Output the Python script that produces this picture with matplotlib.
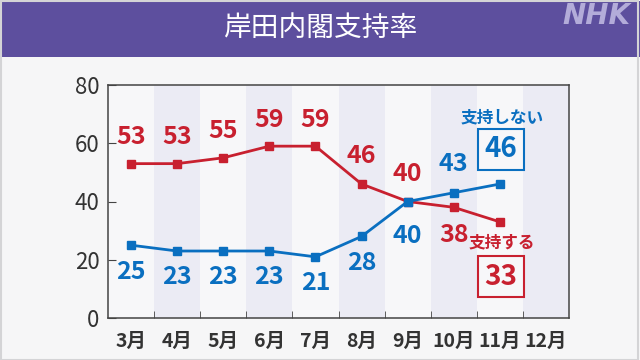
import matplotlib
matplotlib.use('Agg')
import matplotlib.pyplot as plt
from matplotlib.patches import Rectangle
import numpy as np

plt.rcParams['font.family'] = ['Noto Sans CJK JP', 'DejaVu Sans']

months = ['3月', '4月', '5月', '6月', '7月', '8月', '9月', '10月', '11月', '12月']
support = [53, 53, 55, 59, 59, 46, 40, 38, 33]
nonsupport = [25, 23, 23, 23, 21, 28, 40, 43, 46]

# label offsets in points (above = positive)
red_off = [19, 19, 19, 19, 19, 20, 20, -20, None]
blue_off = [-19, -19, -19, -19, -19, -19, -25, 21, None]

RED = '#c8202f'
BLUE = '#0a6fc0'
PURPLE = '#5d4f9e'

fig = plt.figure(figsize=(6.4, 3.6), dpi=100)
fig.patch.set_facecolor('#f6f6f7')

# header band and frame
fig.patches.append(Rectangle((0, 1 - 57 / 360), 1, 56 / 360, transform=fig.transFigure,
                             facecolor=PURPLE, edgecolor='none', zorder=0))
fig.patches.append(Rectangle((0.5 / 640, 0.5 / 360), 1 - 2.5 / 640, 1 - 1.5 / 360,
                             transform=fig.transFigure, facecolor='none',
                             edgecolor='#d4d4d6', linewidth=1.5, zorder=1))
fig.text(0.5, 1 - 28 / 360, '岸田内閣支持率', color='white', fontsize=20,
         ha='center', va='center')
fig.text(596 / 640, 1 - 16 / 360, 'NHK', color='#b3acd9', fontsize=20,
         fontweight='bold', style='italic', ha='center', va='center',
         family='DejaVu Sans')

ax = fig.add_axes([108 / 640, 1 - 318 / 360, 461 / 640, 233 / 360])
ax.set_facecolor('#f7f7f9')
x = np.arange(len(months))
for i in range(1, len(months), 2):
    ax.axvspan(i - 0.5, i + 0.5, color='#ebebf4', zorder=0, lw=0)

ax.plot(x[:len(support)], support, color=RED, lw=2, marker='s', ms=5.5, zorder=3)
ax.plot(x[:len(nonsupport)], nonsupport, color=BLUE, lw=2, marker='s', ms=5.5, zorder=3)

for i, (v, o) in enumerate(zip(support, red_off)):
    if o is None:
        continue
    ax.annotate(str(v), (i, v), xytext=(0, o), textcoords='offset points',
                ha='center', va='center', color=RED, fontsize=18, fontweight='bold')
for i, (v, o) in enumerate(zip(nonsupport, blue_off)):
    if o is None:
        continue
    ax.annotate(str(v), (i, v), xytext=(0, o), textcoords='offset points',
                ha='center', va='center', color=BLUE, fontsize=18, fontweight='bold')

# legend boxes for latest values
last = len(support) - 1
ax.text(last + 0.05, 68.7, '支持しない', color=BLUE, fontsize=12, fontweight='bold',
        ha='center', va='center')
ax.add_patch(Rectangle((last - 0.47, 50.8), 0.99, 14.1, facecolor='none',
                       edgecolor=BLUE, lw=1.5, zorder=4))
ax.text(last + 0.02, 57.9, str(nonsupport[-1]), color=BLUE, fontsize=20,
        fontweight='bold', ha='center', va='center')
ax.text(last + 0.05, 25.8, '支持する', color=RED, fontsize=12, fontweight='bold',
        ha='center', va='center')
ax.add_patch(Rectangle((last - 0.47, 7.2), 0.99, 14.1, facecolor='none',
                       edgecolor=RED, lw=1.5, zorder=4))
ax.text(last + 0.02, 14.2, str(support[-1]), color=RED, fontsize=20,
        fontweight='bold', ha='center', va='center')

ax.set_xlim(-0.5, len(months) - 0.5)
ax.set_ylim(0, 80)
ax.set_yticks([0, 20, 40, 60, 80])
ax.set_xticks(x)
ax.set_xticklabels(months, fontweight='bold', fontsize=14, color='#333333')
ax.set_xticks(np.arange(0.5, len(months) - 0.5), minor=True)
ax.tick_params(axis='x', which='major', length=0, pad=10)
ax.tick_params(axis='x', which='minor', direction='in', length=5, color='#444444')
ax.tick_params(axis='y', direction='in', length=6, color='#444444', labelsize=16,
               labelcolor='#333333', pad=6)
for s in ax.spines.values():
    s.set_color('#444444')
    s.set_linewidth(1.1)

fig.savefig('out.png', dpi=100, facecolor=fig.get_facecolor())
